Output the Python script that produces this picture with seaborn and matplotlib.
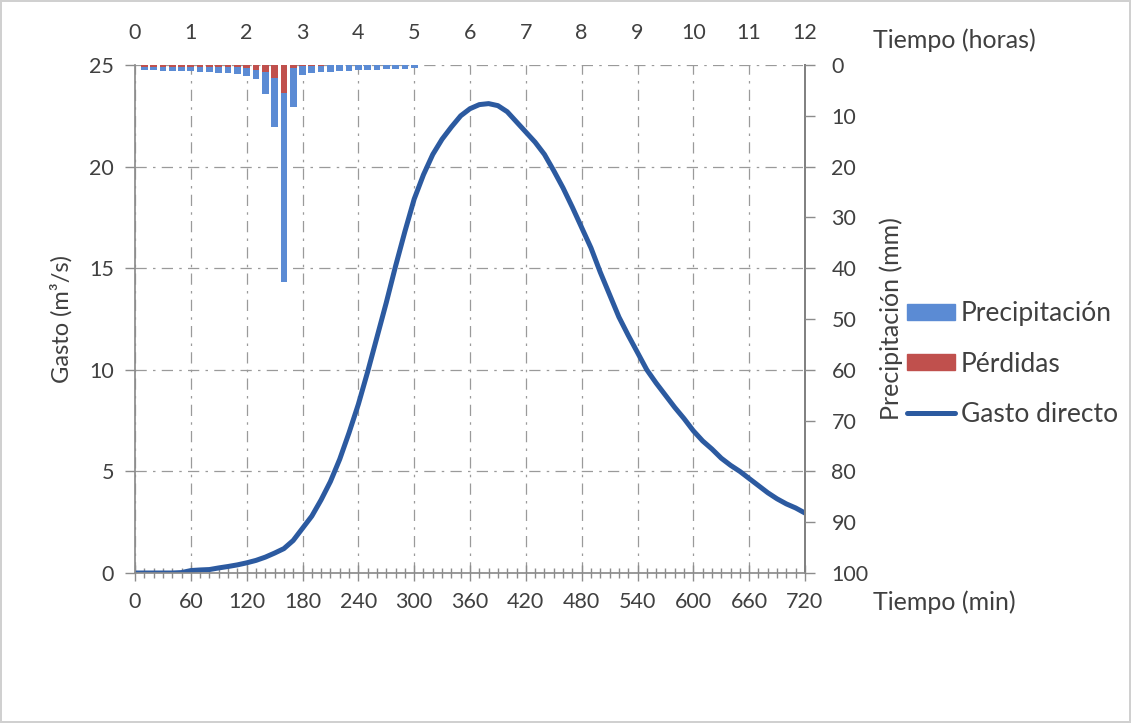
import numpy as np
import pandas as pd
import seaborn as sns
import matplotlib.pyplot as plt
from matplotlib.patches import Patch
from matplotlib.lines import Line2D
from matplotlib.ticker import MultipleLocator

# hidrograma de gasto directo (min, m3/s)
t_min = [0, 10, 20, 30, 40, 50, 60, 70, 80, 90, 100, 110, 120, 130, 140, 150, 160, 170,
         180, 190, 200, 210, 220, 230, 240, 250, 260, 270, 280, 290, 300, 310, 320, 330,
         340, 350, 360, 370, 380, 390, 400, 410, 420, 430, 440, 450, 460, 470, 480, 490,
         500, 510, 520, 530, 540, 550, 560, 570, 580, 590, 600, 610, 620, 630, 640, 650,
         660, 670, 680, 690, 700, 710, 720]
gasto = [0.0, 0.0, 0.0, 0.0, 0.0, 0.02, 0.12, 0.15, 0.17, 0.25, 0.32, 0.4, 0.5, 0.62, 0.78,
         0.98, 1.2, 1.6, 2.2, 2.8, 3.6, 4.5, 5.6, 6.9, 8.3, 9.9, 11.6, 13.3, 15.1, 16.8,
         18.4, 19.6, 20.6, 21.35, 21.95, 22.5, 22.85, 23.05, 23.1, 23.0, 22.7, 22.2, 21.7,
         21.2, 20.6, 19.8, 18.95, 18.0, 17.0, 16.0, 14.8, 13.7, 12.6, 11.7, 10.85, 10.0,
         9.35, 8.75, 8.15, 7.6, 7.0, 6.5, 6.1, 5.65, 5.3, 5.0, 4.65, 4.3, 3.95, 3.65, 3.4,
         3.2, 2.95]

# hietograma (mm cada 10 min)
t_lluvia = [10, 20, 30, 40, 50, 60, 70, 80, 90, 100, 110, 120, 130, 140, 150, 160, 170,
            180, 190, 200, 210, 220, 230, 240, 250, 260, 270, 280, 290, 300]
precip = [1.0, 1.0, 1.1, 1.1, 1.2, 1.2, 1.3, 1.4, 1.5, 1.6, 1.8, 2.1, 2.7, 5.8, 12.2, 42.7,
          8.2, 2.0, 1.6, 1.4, 1.3, 1.2, 1.1, 1.0, 0.9, 0.9, 0.8, 0.8, 0.7, 0.6]
perdidas = [0.3, 0.3, 0.3, 0.3, 0.3, 0.3, 0.35, 0.35, 0.4, 0.4, 0.45, 0.5, 1.0, 1.3, 2.5,
            5.6, 0.5, 0.15, 0.1, 0.1, 0.05, 0.05, 0.0, 0.0, 0.0, 0.0, 0.0, 0.0, 0.0, 0.0]

horas = list(range(13))

azul = '#5B8BD4'
rojo = '#C0504D'
linea = '#2C5AA0'
gris = '#8C8C8C'
texto = '#404040'

sns.set_theme(style="white")
plt.rcParams['font.family'] = ['Lato', 'DejaVu Sans']

df_q = pd.DataFrame({'t': t_min, 'Q': gasto})
df_p = pd.DataFrame({'t': t_lluvia, 'P': precip, 'L': perdidas})

fig = plt.figure(figsize=(11.31, 7.23), dpi=100)
fig.patch.set_edgecolor('#d0d0d0')
fig.patch.set_linewidth(1.5)
ax = fig.add_axes([135 / 1131, 1 - 573 / 723, 670 / 1131, 508 / 723])
ax2 = ax.twinx()

sns.barplot(data=df_p, x='t', y='P', native_scale=True, color=azul, saturation=1,
            width=0.72, linewidth=0, errorbar=None, ax=ax2)
sns.barplot(data=df_p, x='t', y='L', native_scale=True, color=rojo, saturation=1,
            width=0.72, linewidth=0, errorbar=None, ax=ax2)
sns.lineplot(data=df_q, x='t', y='Q', color=linea, linewidth=3.6, ax=ax)

ax.set_xlim(0, 720)
ax.set_ylim(0, 25)
ax2.set_xlim(0, 720)
ax2.set_ylim(100, 0)

ax.set_xticks(range(0, 721, 60))
ax.xaxis.set_minor_locator(MultipleLocator(10))
ax.set_yticks(range(0, 26, 5))
ax2.set_yticks(range(0, 101, 10))

ax.set_axisbelow(True)
ax.grid(True, which='major', color='#9a9a9a', linewidth=0.9, linestyle=(0, (9, 5, 2, 5)))

ax.spines['top'].set_visible(False)
for s in ['top', 'left', 'bottom']:
    ax2.spines[s].set_visible(False)
for s in ['left', 'bottom']:
    ax.spines[s].set_color(gris)
ax2.spines['right'].set_color(gris)

ax.tick_params(axis='x', which='major', direction='inout', length=11, width=1, color=gris,
               labelsize=15.5, labelcolor=texto, pad=8, bottom=True)
ax.tick_params(axis='x', which='minor', direction='inout', length=7, width=1, color=gris,
               bottom=True)
ax.tick_params(axis='y', direction='out', length=7, width=1, color=gris, labelsize=15.5,
               labelcolor=texto, pad=8, left=True)
ax2.tick_params(axis='y', direction='out', length=7, width=1, color=gris, labelsize=15.5,
                labelcolor=texto, pad=12, right=True)

top = ax.secondary_xaxis('top', functions=(lambda m: m / 60, lambda h: h * 60))
top.set_xticks(horas)
top.tick_params(length=0, labelsize=15.5, labelcolor=texto, pad=16)
top.spines['top'].set_visible(False)

ax.set_xlabel('')
ax2.set_xlabel('')
ax.set_ylabel('Gasto (m³/s)', fontsize=17, color=texto, labelpad=12)
ax2.set_ylabel('Precipitación (mm)', fontsize=18, color=texto, labelpad=8)

fig.text(873 / 1131, 1 - 40 / 723, 'Tiempo (horas)', fontsize=18, color=texto,
         ha='left', va='center')
fig.text(873 / 1131, 1 - 602 / 723, 'Tiempo (min)', fontsize=18, color=texto,
         ha='left', va='center')

handles = [Patch(facecolor=azul, edgecolor=azul),
           Patch(facecolor=rojo, edgecolor=rojo),
           Line2D([0], [0], color=linea, linewidth=3.6)]
fig.legend(handles, ['Precipitación', 'Pérdidas', 'Gasto directo'], loc='center left',
           bbox_to_anchor=(896 / 1131, 1 - 364 / 723), frameon=False, fontsize=19,
           handlelength=1.85, handleheight=0.55, handletextpad=0.2, labelspacing=0.95,
           labelcolor=texto, borderaxespad=0)

fig.savefig('out.png', dpi=100)
